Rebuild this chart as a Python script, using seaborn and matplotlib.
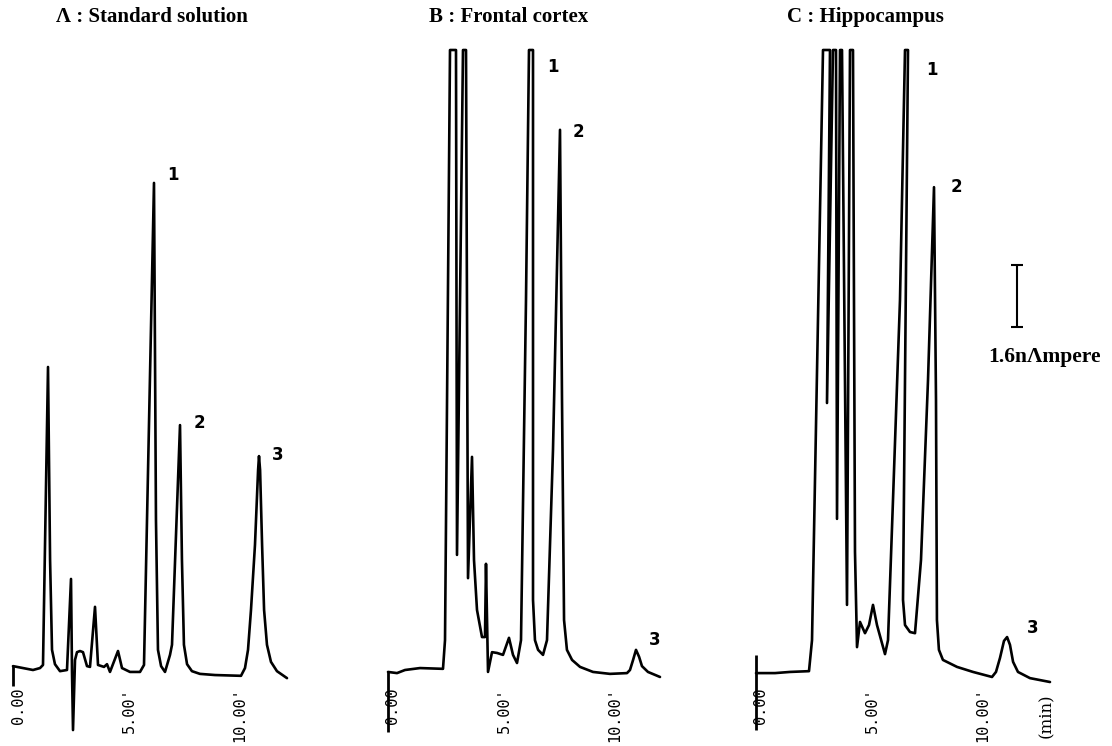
import matplotlib
matplotlib.use("Agg")
import matplotlib.pyplot as plt
import seaborn as sns
import pandas as pd
from matplotlib.transforms import ScaledTranslation

# ---------------- data (time in min, signal in nA above baseline) ----------------
time_a = [0.000, 0.901, 1.216, 1.351, 1.577, 1.670, 1.757, 1.890, 2.117, 2.432, 2.613, 2.658, 2.703,
          2.793, 2.883, 3.018, 3.153, 3.333, 3.468, 3.694, 3.829, 4.099, 4.234, 4.369, 4.730,
          4.910, 5.270, 5.721, 5.901, 6.351, 6.440, 6.530, 6.670, 6.847, 7.072, 7.162, 7.523,
          7.610, 7.700, 7.840, 8.060, 8.420, 9.099, 10.270, 10.450, 10.586, 10.720, 10.900,
          11.040, 11.081, 11.130, 11.220, 11.310, 11.440, 11.620, 11.890, 12.342]
signal_a = [0.10, 0.00, 0.05, 0.13, 7.82, 2.84, 0.52, 0.15, -0.03, 0.00, 2.35, -0.05, -1.55,
            0.26, 0.46, 0.49, 0.46, 0.10, 0.08, 1.63, 0.13, 0.08, 0.15, -0.05, 0.49,
            0.05, -0.05, -0.05, 0.13, 12.57, 3.87, 0.52, 0.10, -0.05, 0.39, 0.65, 6.32,
            2.84, 0.65, 0.15, -0.03, -0.10, -0.13, -0.15, 0.05, 0.52, 1.55, 3.23,
            5.16, 5.52, 5.16, 3.23, 1.55, 0.65, 0.21, -0.03, -0.21]

time_b = [0.000, 0.405, 0.766, 1.441, 2.477, 2.568, 2.793, 3.063, 3.108, 3.378, 3.514, 3.604,
          3.784, 3.874, 4.009, 4.234, 4.369, 4.414, 4.505, 4.685, 4.910, 5.180, 5.450, 5.631,
          5.811, 5.991, 6.216, 6.351, 6.532, 6.532, 6.620, 6.760, 6.982, 7.162, 7.432, 7.748,
          7.838, 7.930, 8.060, 8.290, 8.650, 9.234, 10.000, 10.766, 10.900, 11.040, 11.171,
          11.310, 11.440, 11.710, 12.252]
signal_b = [-0.05, -0.08, 0.00, 0.05, 0.03, 0.77, 16.00, 16.00, 2.97, 16.00, 16.00, 2.37,
            5.50, 2.84, 1.55, 0.85, 0.85, 2.74, -0.05, 0.46, 0.44, 0.39, 0.83, 0.39,
            0.18, 0.77, 9.55, 16.00, 16.00, 1.81, 0.77, 0.52, 0.39, 0.77, 5.68, 13.94,
            6.97, 1.29, 0.52, 0.26, 0.08, -0.05, -0.10, -0.08, 0.00, 0.26, 0.52,
            0.34, 0.10, -0.05, -0.18]

time_c = [0.000, 0.856, 1.532, 2.387, 2.523, 3.018, 3.333, 3.198, 3.468, 3.604, 3.649, 3.784,
          3.874, 4.099, 4.234, 4.369, 4.459, 4.550, 4.685, 4.910, 5.090, 5.270, 5.450, 5.811,
          5.946, 6.171, 6.486, 6.712, 6.847, 6.622, 6.712, 6.937, 7.162, 7.432, 7.748, 8.018,
          8.108, 8.150, 8.240, 8.420, 9.054, 9.775, 10.631, 10.810, 10.990, 11.170, 11.310,
          11.440, 11.580, 11.800, 12.342, 13.243]
signal_c = [-0.08, -0.08, -0.05, -0.03, 0.77, 16.00, 16.00, 6.89, 16.00, 16.00, 3.90, 16.00,
            16.00, 1.68, 16.00, 16.00, 3.05, 0.59, 1.24, 0.95, 1.16, 1.68, 1.16, 0.41,
            0.77, 4.39, 9.55, 16.00, 16.00, 1.81, 1.16, 0.98, 0.95, 2.84, 7.48, 12.46,
            6.97, 1.29, 0.52, 0.26, 0.08, -0.05, -0.18, -0.05, 0.31, 0.75, 0.85,
            0.65, 0.21, -0.05, -0.21, -0.31]

panel_titles = ["\u039b : Standard solution", "B : Frontal cortex", "C : Hippocampus"]
tick_values = [0, 5, 10]
tick_labels = ["0.00", "5.00'", "10.00'"]
peak_names = ["1", "2", "3"]
scale_bar_nA = 1.6
scale_label = "1.6n\u039bmpere"
unit_label = "(min)"

# ---------------- layout ----------------
W, H = 1112, 746
PX_MIN = 22.2          # pixels per minute
PX_NA = 38.75          # pixels per nA
BASE_PX = 670          # baseline pixel row
AX_BOTTOM_PX, AX_TOP_PX = 682, 40
panel_t0_px = [13, 388, 756]
title_t = [6.26, 5.45, 4.91]
peak_label_pos = [
    [(7.21, 12.77), (8.38, 6.37), (11.94, 5.55)],
    [(7.43, 15.56), (8.60, 13.88), (12.03, 0.77)],
    [(7.93, 15.48), (9.05, 12.46), (12.48, 1.08)],
]
zero_tick_span = [(0.10, -0.40), (-0.05, -1.60), (0.39, -1.55)]

sns.set_style("white")
plt.rcParams["font.family"] = ["DejaVu Sans"]
plt.rcParams["text.color"] = "black"
plt.rcParams["xtick.color"] = "black"
plt.rcParams["xtick.labelcolor"] = "black"

fig = plt.figure(figsize=(W / 100, H / 100), dpi=100)
xlo, xhi = -0.5, 14.0
ylo = (BASE_PX - AX_BOTTOM_PX) / PX_NA
yhi = (BASE_PX - AX_TOP_PX) / PX_NA

traces = [(time_a, signal_a), (time_b, signal_b), (time_c, signal_c)]

for i, (tt, ss) in enumerate(traces):
    left_px = panel_t0_px[i] + xlo * PX_MIN
    width_px = (xhi - xlo) * PX_MIN
    ax = fig.add_axes([left_px / W, (H - AX_BOTTOM_PX) / H, width_px / W,
                       (AX_BOTTOM_PX - AX_TOP_PX) / H])
    df = pd.DataFrame({"t": tt, "s": ss})
    sns.lineplot(data=df, x="t", y="s", sort=False, estimator=None, ax=ax,
                 color="black", linewidth=1.9, clip_on=False)
    ax.set_xlim(xlo, xhi)
    ax.set_ylim(ylo, yhi)
    for sp in ax.spines.values():
        sp.set_visible(False)
    ax.set_xlabel("")
    ax.set_ylabel("")
    ax.set_yticks([])
    ax.set_xticks(tick_values)
    ax.set_xticklabels(tick_labels, rotation=90, fontsize=11, va="top", ha="center",
                       family="DejaVu Sans Mono", color="black")
    ax.tick_params(axis="x", length=0, pad=4)
    off = ScaledTranslation(5 / 100, 0, fig.dpi_scale_trans)
    for lab in ax.get_xticklabels():
        lab.set_transform(lab.get_transform() + off)
    # zero marker
    z0, z1 = zero_tick_span[i]
    ax.vlines(0, z1, z0, color="black", linewidth=2.0, clip_on=False)
    # title
    ax.text(title_t[i], (BASE_PX - 17) / PX_NA, panel_titles[i], ha="center", va="center",
            fontsize=15, fontweight="bold", family="Liberation Serif", color="black")
    # peak labels
    for name, (px, py) in zip(peak_names, peak_label_pos[i]):
        ax.text(px, py, name, ha="center", va="center", fontsize=12, fontweight="bold",
                color="black")
    if i == 2:
        bar_t = 11.76
        bar_lo = (BASE_PX - 327) / PX_NA
        ax.errorbar([bar_t], [bar_lo + scale_bar_nA / 2], yerr=[scale_bar_nA / 2],
                    color="black", capsize=4.3, elinewidth=1.5, capthick=1.5, fmt="none")
        ax.text(13.0, (BASE_PX - 357) / PX_NA, scale_label, ha="center", va="center",
                fontsize=15.5, fontweight="bold", family="Liberation Serif", color="black")
        ax.annotate(unit_label, xy=(13.1, 0), xycoords=("data", "axes fraction"),
                    xytext=(0, -11 / 100 * 72), textcoords="offset points",
                    rotation=90, ha="center", va="top", fontsize=12, family="DejaVu Serif",
                    color="black")

fig.savefig("out.png", dpi=100)
